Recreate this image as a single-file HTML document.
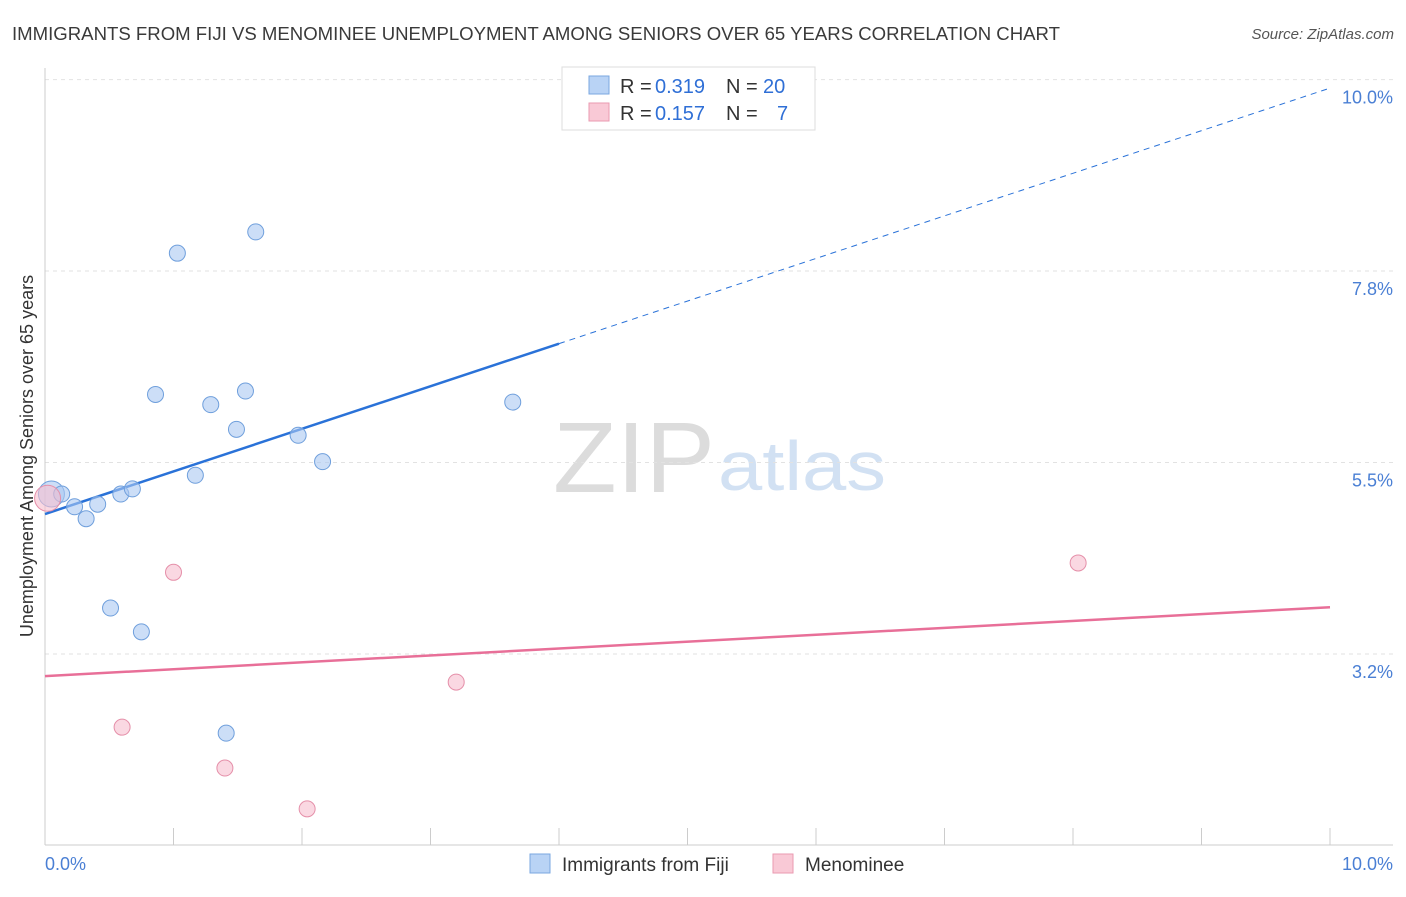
<!DOCTYPE html>
<html><head><meta charset="utf-8"><style>
body{margin:0;background:#fff;font-family:"Liberation Sans",sans-serif;}
svg text{font-family:"Liberation Sans",sans-serif;}
</style></head><body>
<svg id="c" width="1406" height="892">
<text x="12" y="40" font-size="18" fill="#3a3a3a" textLength="1048" lengthAdjust="spacingAndGlyphs">IMMIGRANTS FROM FIJI VS MENOMINEE UNEMPLOYMENT AMONG SENIORS OVER 65 YEARS CORRELATION CHART</text>
<text x="1394" y="39" font-size="15" fill="#555" font-style="italic" text-anchor="end">Source: ZipAtlas.com</text>
<text x="33" y="456" font-size="18" fill="#333" text-anchor="middle" transform="rotate(-90 33 456)">Unemployment Among Seniors over 65 years</text>
<text x="553" y="492" font-size="100" fill="#dcdcdc" font-family="Liberation Serif" textLength="162" lengthAdjust="spacingAndGlyphs">ZIP</text>
<text x="718" y="490" font-size="70" fill="#d2e1f3" textLength="168" lengthAdjust="spacingAndGlyphs">atlas</text>
<g id="grid"></g><g id="marks"></g>
<g>
<rect x="562" y="67" width="253" height="63" fill="#fff" stroke="#ddd"/>
<rect x="589" y="76" width="20" height="18" fill="#b9d3f5" stroke="#7aa7e0"/>
<rect x="589" y="103" width="20" height="18" fill="#f9c9d6" stroke="#ea9ab0"/>
<text x="620" y="93" font-size="20" fill="#333">R =</text>
<text x="655" y="93" font-size="20" fill="#2f6fd6">0.319</text>
<text x="726" y="93" font-size="20" fill="#333">N =</text>
<text x="763" y="93" font-size="20" fill="#2f6fd6">20</text>
<text x="620" y="120" font-size="20" fill="#333">R =</text>
<text x="655" y="120" font-size="20" fill="#2f6fd6">0.157</text>
<text x="726" y="120" font-size="20" fill="#333">N =</text>
<text x="777" y="120" font-size="20" fill="#2f6fd6">7</text>
</g>
<g>
<rect x="530" y="854" width="20" height="19" fill="#b9d3f5" stroke="#7aa7e0"/>
<text x="562" y="871" font-size="19" fill="#333">Immigrants from Fiji</text>
<rect x="773" y="854" width="20" height="19" fill="#f9c9d6" stroke="#ea9ab0"/>
<text x="805" y="871" font-size="19" fill="#333">Menominee</text>
</g>
<text x="45" y="870" font-size="18" fill="#4a7fd4">0.0%</text>
<text x="1393" y="870" font-size="18" fill="#4a7fd4" text-anchor="end">10.0%</text>
</svg>
<script>
const yTicks=[3.25,5.5,7.75,10.0];
const yTickLabels=["3.2%","5.5%","7.8%","10.0%"];
const fijiX=[0.05,0.13,0.23,0.32,0.41,0.51,0.59,0.68,0.75,0.86,1.03,1.17,1.29,1.41,1.49,1.56,1.64,1.97,2.16,3.64];
const fijiY=[5.13,5.13,4.98,4.84,5.01,3.79,5.13,5.19,3.51,6.30,7.96,5.35,6.18,2.32,5.89,6.34,8.21,5.82,5.51,6.21];
const menX=[0.02,0.60,1.00,1.40,2.04,3.20,8.04];
const menY=[5.08,2.39,4.21,1.91,1.43,2.92,4.32];
const fijiLine=[4.895,9.90];
const menLine=[2.99,3.80];
const NS="http://www.w3.org/2000/svg";
const xs=v=>45+v*128.5, ys=v=>654-(v-3.25)*85.1;
function mk(t,a,p){const e=document.createElementNS(NS,t);for(const k in a)e.setAttribute(k,a[k]);p.appendChild(e);return e;}
const g=document.getElementById('grid'),m=document.getElementById('marks');
yTicks.forEach((t,i)=>{
 const l=mk('line',{x1:45,x2:1393,y1:ys(t),y2:ys(t),stroke:'#e2e2e2','stroke-dasharray':'4,4'},g);
 
 
 const tx=mk('text',{x:1393,y:ys(t)+24,'font-size':18,fill:'#4a7fd4','text-anchor':'end'},g);
 tx.textContent=yTickLabels[i];
 
 
});
const ax=mk('line',{x1:45,x2:1393,y1:845,y2:845,stroke:'#ccc'},g);


const ay=mk('line',{x1:45,x2:45,y1:68,y2:845,stroke:'#ccc'},g);


for(let i=0;i<=10;i++){const t=mk('line',{x1:xs(i),x2:xs(i),y1:828,y2:845,stroke:'#ccc'},g);
 
 }
const bx=4.0;
let l1=mk('line',{x1:xs(0),y1:ys(fijiLine[0]),x2:xs(bx),y2:ys(fijiLine[0]+(fijiLine[1]-fijiLine[0])*bx/10),stroke:'#2a72d8','stroke-width':2.5},m);


let l2=mk('line',{x1:xs(bx),y1:ys(fijiLine[0]+(fijiLine[1]-fijiLine[0])*bx/10),x2:xs(10),y2:ys(fijiLine[1]),stroke:'#2a72d8','stroke-width':1,'stroke-dasharray':'6,5'},m);


let l3=mk('line',{x1:xs(0),y1:ys(menLine[0]),x2:xs(10),y2:ys(menLine[1]),stroke:'#e86f98','stroke-width':2.5},m);


fijiX.forEach((x,i)=>{const c=mk('circle',{cx:xs(x),cy:ys(fijiY[i]),r:i==0?13:8,fill:'rgba(170,200,242,0.6)',stroke:'#6f9fdc','stroke-width':1},m);
 
 });
menX.forEach((x,i)=>{const c=mk('circle',{cx:xs(x),cy:ys(menY[i]),r:i==0?13:8,fill:'rgba(247,190,206,0.6)',stroke:'#e58fa9','stroke-width':1},m);
 
 });
</script>
</body></html>
